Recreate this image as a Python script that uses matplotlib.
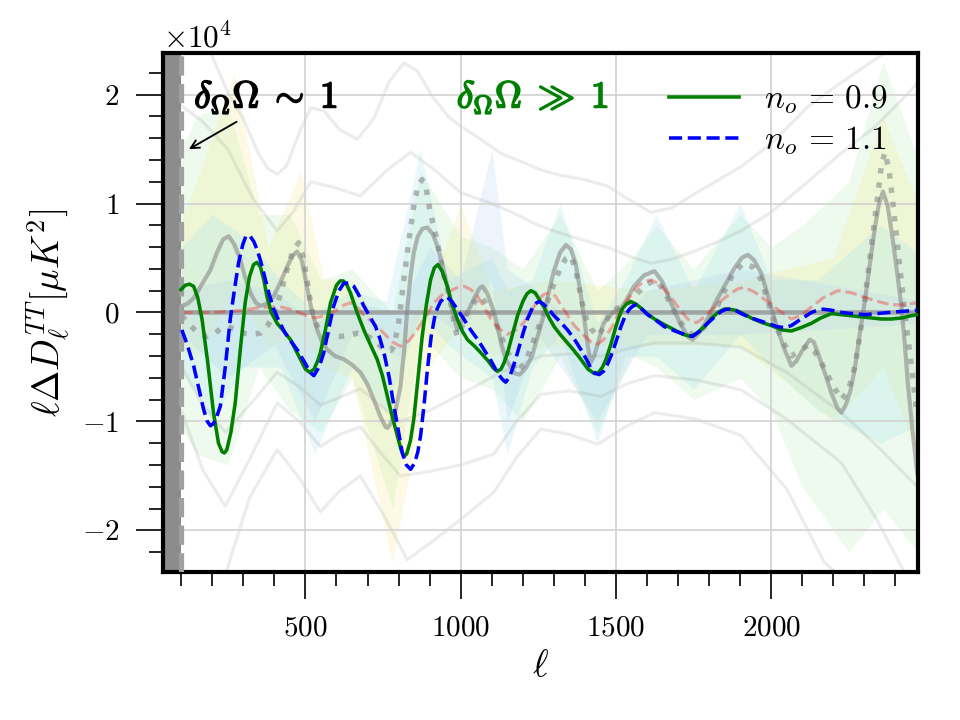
import numpy as np
import matplotlib
matplotlib.use("Agg")
import matplotlib.pyplot as plt
import matplotlib.patheffects as pe

plt.rcParams['font.family'] = 'serif'
plt.rcParams['font.serif'] = ['cmr10', 'DejaVu Serif']
plt.rcParams['mathtext.fontset'] = 'cm'
plt.rcParams['axes.formatter.use_mathtext'] = True

SCALE = 1e4  # values below are in units of 10^4 muK^2

# main curves
ell_green = [99, 113, 127, 140, 153, 167, 185, 204, 220, 232, 239, 247, 260, 274, 290, 306,
             320, 333, 344, 355, 366, 376, 390, 409, 430, 452, 470, 484, 500, 514, 528, 540,
             548, 565, 581, 600, 612, 622, 634, 645, 665, 688, 710, 731, 748, 764, 780, 796,
             808, 817, 826, 838, 849, 862, 876, 890, 903, 915, 927, 940, 957, 972, 989, 1005,
             1022, 1045, 1065, 1090, 1105, 1118, 1130, 1140, 1151, 1167, 1183, 1200, 1213,
             1226, 1240, 1255, 1270, 1285, 1301, 1320, 1344, 1365, 1387, 1410, 1430, 1445,
             1457, 1468, 1485, 1500, 1510, 1522, 1535, 1548, 1563, 1581, 1600, 1624, 1655,
             1688, 1715, 1742, 1765, 1785, 1806, 1828, 1848, 1866, 1885, 1903, 1935, 1968,
             2000, 2035, 2065, 2095, 2129, 2160, 2194, 2225, 2258, 2290, 2323, 2355, 2387,
             2420, 2450, 2470]
val_green = [0.21, 0.25, 0.26, 0.24, 0.14, -0.06, -0.45, -0.92, -1.20, -1.28, -1.29, -1.26,
             -1.10, -0.83, -0.35, 0.09, 0.33, 0.44, 0.46, 0.42, 0.30, 0.15, 0.00, -0.10, -0.17,
             -0.25, -0.35, -0.43, -0.52, -0.55, -0.52, -0.44, -0.37, -0.15, 0.09, 0.25, 0.29,
             0.29, 0.25, 0.18, 0.01, -0.16, -0.30, -0.43, -0.58, -0.77, -0.96, -1.13, -1.26,
             -1.32, -1.30, -1.18, -0.98, -0.62, -0.22, 0.08, 0.30, 0.41, 0.44, 0.38, 0.24,
             0.08, -0.06, -0.17, -0.25, -0.31, -0.37, -0.45, -0.51, -0.54, -0.52, -0.46, -0.37,
             -0.20, -0.03, 0.10, 0.17, 0.20, 0.18, 0.11, 0.04, -0.05, -0.13, -0.20, -0.28,
             -0.35, -0.43, -0.52, -0.56, -0.55, -0.50, -0.43, -0.28, -0.13, -0.04, 0.04, 0.08,
             0.10, 0.08, 0.04, -0.01, -0.06, -0.11, -0.16, -0.20, -0.22, -0.18, -0.13, -0.06,
             0.00, 0.03, 0.03, 0.02, 0.00, -0.05, -0.09, -0.12, -0.16, -0.17, -0.14, -0.10,
             -0.05, -0.01, -0.02, -0.03, -0.04, -0.05, -0.06, -0.06, -0.05, -0.03, -0.02]

ell_blue = [102, 120, 140, 157, 172, 184, 194, 204, 214, 226, 242, 258, 272, 285, 298, 308,
            314, 322, 334, 344, 355, 366, 382, 398, 415, 435, 455, 473, 500, 515, 527, 540,
            550, 559, 575, 591, 608, 624, 640, 656, 672, 688, 708, 726, 740, 753, 770, 785,
            800, 812, 825, 839, 852, 862, 871, 882, 893, 905, 919, 935, 950, 957, 972, 989,
            1010, 1032, 1055, 1075, 1097, 1118, 1133, 1145, 1158, 1170, 1183, 1200, 1215,
            1232, 1245, 1253, 1265, 1280, 1301, 1322, 1344, 1365, 1387, 1405, 1419, 1433,
            1446, 1460, 1472, 1484, 1500, 1516, 1530, 1543, 1555, 1565, 1580, 1602, 1628,
            1656, 1690, 1720, 1747, 1770, 1795, 1818, 1839, 1855, 1870, 1885, 1903, 1935,
            1968, 2000, 2020, 2043, 2065, 2086, 2108, 2129, 2148, 2167, 2195, 2226, 2260,
            2301, 2340, 2376, 2420, 2470]
val_blue = [-0.16, -0.30, -0.49, -0.70, -0.89, -1.00, -1.04, -1.02, -0.96, -0.86, -0.50,
            -0.06, 0.22, 0.46, 0.62, 0.70, 0.71, 0.70, 0.65, 0.58, 0.48, 0.36, 0.18, 0.03,
            -0.08, -0.19, -0.27, -0.34, -0.47, -0.55, -0.58, -0.52, -0.45, -0.37, -0.15, 0.06,
            0.20, 0.27, 0.27, 0.24, 0.16, 0.06, -0.04, -0.13, -0.24, -0.37, -0.60, -0.86,
            -1.10, -1.29, -1.40, -1.44, -1.38, -1.28, -1.13, -0.85, -0.52, -0.22, 0.00, 0.10,
            0.14, 0.14, 0.10, 0.03, -0.06, -0.16, -0.25, -0.34, -0.44, -0.55, -0.61, -0.64,
            -0.59, -0.49, -0.37, -0.20, -0.06, 0.05, 0.09, 0.10, 0.08, 0.04, -0.03, -0.09,
            -0.16, -0.24, -0.34, -0.43, -0.51, -0.56, -0.57, -0.54, -0.48, -0.40, -0.27,
            -0.13, -0.03, 0.03, 0.06, 0.07, 0.04, -0.02, -0.07, -0.13, -0.17, -0.20, -0.22,
            -0.17, -0.10, -0.04, 0.01, 0.03, 0.03, 0.02, -0.01, -0.05, -0.08, -0.11, -0.13,
            -0.14, -0.12, -0.08, -0.04, 0.00, 0.02, 0.03, 0.02, 0.00, -0.01, -0.02, -0.01,
            0.00, 0.01, 0.02]

# grey reference curves
ell_gsolid = [102, 120, 140, 165, 194, 215, 235, 253, 270, 290, 305, 323, 340, 355, 375, 398,
              420, 441, 458, 473, 488, 505, 520, 538, 555, 570, 595, 624, 650, 677, 700, 720,
              742, 758, 764, 775, 790, 806, 818, 828, 838, 849, 862, 877, 893, 910, 925, 940,
              957, 972, 989, 1000, 1010, 1022, 1045, 1060, 1070, 1085, 1108, 1130, 1145, 1161,
              1175, 1190, 1210, 1230, 1250, 1270, 1285, 1300, 1320, 1339, 1355, 1370, 1385,
              1398, 1410, 1419, 1430, 1445, 1460, 1490, 1516, 1535, 1558, 1590, 1624, 1650,
              1677, 1705, 1731, 1747, 1770, 1795, 1822, 1849, 1880, 1905, 1925, 1945, 1968,
              1990, 2011, 2040, 2065, 2080, 2100, 2124, 2137, 2150, 2172, 2194, 2212, 2226,
              2240, 2255, 2269, 2285, 2301, 2318, 2333, 2347, 2360, 2375, 2390, 2405, 2419,
              2430, 2441, 2455, 2470]
val_gsolid = [0.06, 0.08, 0.13, 0.25, 0.39, 0.55, 0.67, 0.70, 0.63, 0.49, 0.33, 0.18, 0.09,
              0.06, 0.08, 0.15, 0.28, 0.42, 0.52, 0.56, 0.48, 0.24, 0.02, -0.16, -0.28, -0.34,
              -0.40, -0.43, -0.48, -0.55, -0.66, -0.80, -0.96, -1.05, -1.06, -1.02, -0.90,
              -0.68, -0.35, 0.03, 0.32, 0.55, 0.70, 0.77, 0.78, 0.72, 0.61, 0.45, 0.24, 0.03,
              -0.16, -0.10, -0.03, 0.00, 0.14, 0.22, 0.24, 0.18, 0.00, -0.28, -0.43, -0.50,
              -0.56, -0.57, -0.51, -0.40, -0.20, 0.00, 0.20, 0.38, 0.55, 0.62, 0.58, 0.45, 0.20,
              -0.06, -0.32, -0.46, -0.40, -0.25, -0.10, 0.00, 0.04, 0.12, 0.24, 0.34, 0.38,
              0.28, 0.09, -0.09, -0.22, -0.25, -0.18, -0.06, 0.10, 0.24, 0.40, 0.50, 0.53, 0.48,
              0.36, 0.15, -0.06, -0.32, -0.49, -0.45, -0.35, -0.25, -0.27, -0.37, -0.55, -0.74,
              -0.87, -0.92, -0.85, -0.72, -0.52, -0.20, 0.09, 0.45, 0.76, 1.00, 1.11, 0.98,
              0.70, 0.38, 0.06, -0.28, -0.68, -1.08, -1.47]

ell_gdot = [102, 120, 140, 160, 183, 210, 230, 247, 270, 301, 330, 355, 378, 398, 420, 441,
            460, 478, 492, 505, 516, 527, 543, 559, 585, 613, 640, 667, 695, 720, 742, 760,
            775, 785, 800, 817, 835, 850, 863, 876, 889, 900, 912, 923, 945, 968, 980, 989,
            1005, 1022, 1045, 1065, 1085, 1108, 1130, 1150, 1168, 1183, 1205, 1230, 1255,
            1280, 1300, 1320, 1337, 1355, 1372, 1390, 1405, 1420, 1441, 1460, 1480, 1505,
            1530, 1550, 1570, 1600, 1630, 1655, 1680, 1710, 1740, 1770, 1800, 1825, 1850,
            1880, 1910, 1940, 1968, 1990, 2011, 2040, 2065, 2092, 2119, 2140, 2160, 2195,
            2226, 2248, 2269, 2285, 2301, 2320, 2340, 2355, 2366, 2380, 2400, 2415, 2430,
            2450, 2470]
val_gdot = [-0.03, -0.09, -0.15, -0.20, -0.22, -0.19, -0.14, -0.13, -0.15, -0.19, -0.20,
            -0.19, -0.12, -0.03, 0.18, 0.39, 0.57, 0.64, 0.52, 0.30, 0.10, -0.06, -0.15, -0.19,
            -0.21, -0.22, -0.21, -0.19, -0.21, -0.25, -0.31, -0.35, -0.35, -0.31, -0.10, 0.30,
            0.70, 1.00, 1.17, 1.22, 1.14, 0.95, 0.80, 0.67, 0.35, 0.09, -0.12, -0.22, -0.12,
            0.00, 0.10, 0.15, 0.07, -0.05, -0.22, -0.35, -0.48, -0.55, -0.47, -0.30, -0.10,
            0.10, 0.26, 0.40, 0.49, 0.52, 0.37, 0.10, -0.06, -0.15, -0.22, -0.14, 0.00, 0.04,
            0.06, 0.11, 0.18, 0.26, 0.30, 0.20, 0.05, -0.10, -0.20, -0.17, -0.10, 0.05, 0.20,
            0.37, 0.45, 0.42, 0.30, 0.10, -0.10, -0.28, -0.40, -0.35, -0.30, -0.36, -0.45,
            -0.65, -0.80, -0.72, -0.50, -0.22, 0.10, 0.55, 1.00, 1.35, 1.47, 1.30, 0.80, 0.40,
            0.00, -0.45, -0.95]

ell_pink = [100, 150, 200, 250, 300, 340, 380, 420, 450, 480, 505, 530, 560, 600, 625, 645,
            665, 688, 720, 753, 780, 806, 833, 860, 887, 914, 940, 968, 990, 1011, 1033, 1054,
            1075, 1097, 1124, 1151, 1178, 1204, 1227, 1250, 1270, 1290, 1305, 1320, 1343,
            1366, 1400, 1420, 1441, 1460, 1490, 1516, 1543, 1570, 1590, 1613, 1640, 1667,
            1700, 1731, 1750, 1763, 1785, 1806, 1840, 1871, 1895, 1914, 1945, 1979, 2020,
            2065, 2095, 2129, 2170, 2215, 2260, 2301, 2345, 2387, 2430, 2468]
val_pink = [0.00, 0.00, 0.00, 0.01, 0.02, 0.04, 0.05, 0.05, 0.03, 0.00, -0.03, -0.05, -0.03,
            0.02, 0.07, 0.09, 0.05, -0.02, -0.10, -0.19, -0.27, -0.31, -0.26, -0.16, -0.04,
            0.09, 0.16, 0.20, 0.23, 0.24, 0.21, 0.15, 0.05, -0.06, -0.15, -0.20, -0.16, -0.09,
            0.01, 0.12, 0.17, 0.18, 0.15, 0.08, -0.02, -0.12, -0.22, -0.27, -0.29, -0.25,
            -0.12, 0.03, 0.14, 0.24, 0.28, 0.30, 0.26, 0.18, 0.05, -0.06, -0.09, -0.09, -0.04,
            0.02, 0.11, 0.18, 0.22, 0.23, 0.19, 0.12, 0.03, -0.06, -0.03, 0.05, 0.14, 0.20,
            0.18, 0.14, 0.10, 0.07, 0.07, 0.09]

# faint grey envelope curves
faint_curves = {
    'u1': ([150, 175, 200, 250, 300, 350, 380, 409, 440, 480, 517, 560, 610, 667, 720, 770,
            817, 860, 910, 960, 1000, 1060, 1130, 1200, 1258, 1320, 1400, 1473, 1540, 1613,
            1680, 1742, 1820, 1903, 2000, 2118, 2220, 2332, 2420, 2500],
           [2.80, 2.55, 2.35, 2.02, 1.78, 1.45, 1.32, 1.27, 1.35, 1.65, 1.88, 1.85, 1.68, 1.59,
            1.78, 2.12, 2.29, 2.22, 1.98, 1.80, 1.71, 1.60, 1.46, 1.38, 1.31, 1.26, 1.22, 1.16,
            1.04, 0.92, 0.96, 1.07, 1.20, 1.34, 1.55, 1.89, 2.10, 2.32, 2.48, 2.60]),
    'u2': ([100, 170, 250, 330, 409, 460, 517, 590, 677, 760, 839, 920, 1000, 1100, 1180,
            1250, 1330, 1400, 1470, 1540, 1613, 1680, 1742, 1820, 1903, 2000, 2118, 2220,
            2332, 2420, 2500],
           [1.90, 1.75, 1.50, 1.05, 0.75, 0.92, 1.20, 1.15, 1.07, 1.30, 1.47, 1.30, 1.10, 1.00,
            0.90, 0.80, 0.72, 0.66, 0.60, 0.52, 0.45, 0.49, 0.55, 0.64, 0.75, 0.92, 1.20, 1.45,
            1.70, 1.95, 2.20]),
    'l1': ([100, 170, 242, 320, 409, 480, 548, 610, 677, 740, 806, 900, 1000, 1130, 1258,
            1350, 1452, 1540, 1624, 1760, 1903, 2050, 2226, 2350, 2470],
           [-0.50, -0.85, -1.10, -0.85, -0.55, -0.68, -0.85, -0.78, -0.70, -0.85, -1.00, -0.90,
            -0.75, -0.55, -0.40, -0.38, -0.40, -0.33, -0.28, -0.28, -0.32, -0.55, -0.92, -1.25,
            -1.60]),
    'l2': ([100, 170, 242, 320, 409, 480, 548, 610, 677, 740, 806, 900, 1000, 1107, 1180,
            1258, 1350, 1452, 1540, 1624, 1760, 1903, 2050, 2226, 2340, 2441],
           [-0.90, -1.45, -1.78, -1.35, -0.83, -1.00, -1.23, -1.12, -1.05, -1.28, -1.50, -1.46,
            -1.40, -1.30, -1.00, -0.75, -0.72, -0.77, -0.65, -0.58, -0.62, -0.71, -0.98, -1.38,
            -1.90, -2.45]),
    'l3': ([243, 320, 409, 480, 548, 610, 677, 750, 828, 910, 1000, 1107, 1180, 1258, 1350,
            1441, 1530, 1624, 1760, 1903, 2050, 2172, 2300],
           [-2.40, -1.70, -1.26, -1.52, -1.83, -1.64, -1.50, -1.85, -2.27, -2.10, -1.90, -1.65,
            -1.33, -1.07, -1.12, -1.21, -1.05, -0.92, -0.98, -1.13, -1.62, -2.30, -2.60]),
}

# coloured bands (ell, upper, lower, colour)
bands = [
    ([50, 150, 250, 350, 450, 550, 650, 780, 870, 1000, 1100, 1200, 1320, 1440, 1550, 1630,
      1750, 1900, 2000, 2100, 2250, 2360, 2500],
     [1.2, 1.8, 1.9, 0.9, 0.9, 0.3, 0.4, 0.0, 1.3, 0.7, 0.6, 0.4, 0.9, 0.2, 0.5, 0.8, 0.4,
      0.9, 0.6, 0.8, 1.2, 2.3, 1.2],
     [-0.8, -1.3, -1.4, -0.5, -0.9, -1.1, -0.6, -1.8, -0.2, -0.6, -0.7, -1.0, -0.4, -1.1,
      -0.4, -0.5, -0.8, -0.6, -0.9, -1.6, -2.2, -1.8, -2.3],
     '#a8eaa8'),
    ([50, 150, 270, 380, 485, 560, 650, 780, 900, 1000, 1100, 1300, 1600, 1900, 2200, 2360, 2500],
     [0.5, 1.2, 2.2, 0.6, 1.3, 0.3, 0.3, -0.3, 0.2, 1.0, 0.2, 0.3, 0.2, 0.3, 0.5, 1.8, 0.8],
     [-0.3, -0.4, 0.2, -0.3, -0.2, -0.5, -0.6, -2.3, -0.5, -0.1, -0.4, -0.3, -0.3, -0.3, -1.0,
      -0.5, -1.5],
     '#f3ea7a'),
    ([100, 200, 300, 420, 530, 650, 760, 870, 960, 1100, 1150, 1230, 1320, 1440, 1530, 1630,
      1750, 1900, 2000, 2150, 2350, 2500],
     [0.6, 0.9, 0.7, 0.3, 0.0, 0.2, 0.1, 1.5, 0.3, 0.5, 0.2, 0.3, 1.0, -0.1, 0.3, 0.9, 0.2,
      1.0, 0.3, 0.3, 0.8, 0.5],
     [-0.5, -1.0, -0.5, -0.5, -1.3, -0.5, -0.9, 0.0, -0.3, -0.6, -1.3, -0.5, -0.2, -1.2, -0.4,
      -0.4, -0.7, -0.2, -0.5, -0.9, -1.2, -1.0],
     '#96def0'),
    ([100, 250, 400, 530, 650, 800, 900, 1000, 1100, 1150, 1250, 1440, 1600, 1900, 2500],
     [0.2, 0.3, 0.2, -0.1, 0.1, 0.0, 0.6, 0.3, 1.5, 0.4, 0.2, -0.3, 0.2, 0.4, 0.1],
     [-0.2, -0.6, -0.3, -1.0, -0.2, -0.4, 0.0, -0.2, 0.3, -1.0, -0.2, -1.0, -0.2, -0.2, -0.1],
     '#a6caf4'),
]


def scaled(v):
    return np.array(v) * SCALE


fig, ax = plt.subplots(figsize=(6.4, 4.8), dpi=150)
fig.subplots_adjust(left=0.170, right=0.956, top=0.926, bottom=0.206)

for b_ell, b_up, b_lo, b_col in bands:
    ax.fill_between(b_ell, scaled(b_lo), scaled(b_up), color=b_col, alpha=0.2, lw=0, zorder=0.5)

for name, (f_ell, f_val) in faint_curves.items():
    ax.plot(f_ell, scaled(f_val), color='gray', lw=1.5, alpha=0.15, zorder=1)

ax.axhline(0, color='gray', lw=2.2, alpha=0.6, zorder=1.8)
ax.plot(ell_gsolid, scaled(val_gsolid), color='gray', lw=2.0, alpha=0.55, zorder=1.9)
ax.plot(ell_gdot, scaled(val_gdot), color='gray', lw=2.6, ls=':', alpha=0.55, zorder=1.9)
ax.plot(ell_pink, scaled(val_pink), color='red', lw=1.5, ls='--', alpha=0.3, zorder=1.9)

ax.plot(ell_green, scaled(val_green), color='green', lw=1.7, label=r'$n_o\,=\,0.9$', zorder=3)
ax.plot(ell_blue, scaled(val_blue), color='blue', lw=1.7, ls='--', label=r'$n_o\,=\,1.1$',
        zorder=3)

# low-ell region
ax.axvspan(0, 100, color='#8c8c8c', lw=0, zorder=2.5)
ax.axvline(100, color='#a0a0a0', lw=2.5, ls='--', zorder=2.6)

bold_k = [pe.withStroke(linewidth=0.8, foreground='black')]
bold_g = [pe.withStroke(linewidth=0.8, foreground='green')]
ax.annotate('', xy=(113, 1.48 * SCALE), xytext=(290, 1.77 * SCALE),
            arrowprops=dict(arrowstyle='->', color='black', lw=0.9))
ax.text(142, 1.98 * SCALE, r'$\delta_{\Omega}\Omega\;\sim\;1$',
        fontsize=18, ha='left', va='center', path_effects=bold_k)
ax.text(1232, 1.98 * SCALE, r'$\delta_{\Omega}\Omega\;\gg\;1$',
        fontsize=18, ha='center', va='center', color='green', path_effects=bold_g)

ax.set_xlim(42, 2472)
ax.set_ylim(-2.38 * SCALE, 2.38 * SCALE)
ax.set_xticks([500, 1000, 1500, 2000])
ax.set_xticks(np.arange(100, 2500, 100), minor=True)
ax.set_yticks([-2 * SCALE, -SCALE, 0, SCALE, 2 * SCALE])
ax.set_yticks(np.arange(-2.2, 2.3, 0.2) * SCALE, minor=True)
ax.ticklabel_format(axis='y', style='sci', scilimits=(0, 0))
ax.tick_params(which='major', length=13, width=0.8, labelsize=14, pad=8)
ax.tick_params(which='minor', length=6.5, width=0.8)
ax.yaxis.get_offset_text().set_fontsize(15)

ax.grid(True, which='major', color='lightgray', lw=0.9, alpha=0.9)
for sp in ax.spines.values():
    sp.set_linewidth(2.0)

ax.set_xlabel(r'$\ell$', fontsize=18)
ax.set_ylabel(r'$\ell\Delta D_\ell^{TT}[\mu K^2]$', fontsize=18)

ax.legend(loc='upper right', frameon=False, fontsize=16, handlelength=2.1, handletextpad=0.75,
          borderaxespad=0.5, labelspacing=0.25)

fig.savefig('out.png', dpi=150)
